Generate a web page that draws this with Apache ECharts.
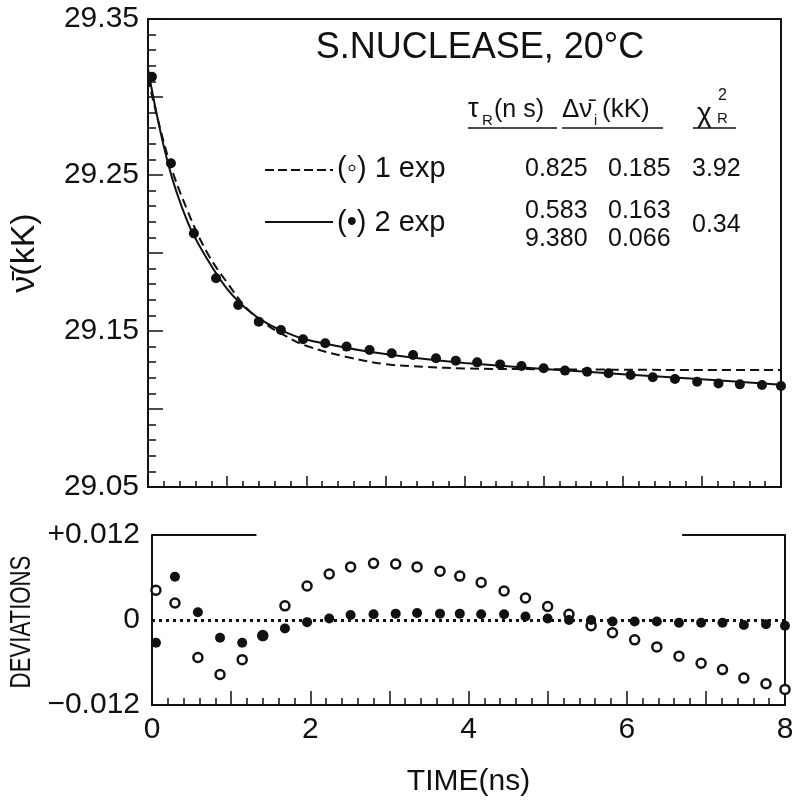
<!DOCTYPE html>
<html>
<head>
<meta charset="utf-8">
<script src="https://cdn.jsdelivr.net/npm/echarts@6/dist/echarts.min.js"></script>
<style>
html,body{margin:0;padding:0;background:#fff;}
#chart{width:800px;height:804px;}
</style>
</head>
<body>
<div id="chart"></div>
<script>
// ---- data ----
const timeNs = [0.05, 0.29, 0.58, 0.86, 1.14, 1.40, 1.68, 1.96, 2.24, 2.51, 2.80, 3.08, 3.35, 3.64, 3.89, 4.16, 4.45, 4.72, 5.00, 5.27, 5.55, 5.82, 6.10, 6.38, 6.66, 6.94, 7.21, 7.48, 7.76, 8.00];
const nuData = [29.313, 29.2575, 29.2126, 29.1838, 29.1667, 29.156, 29.1506, 29.1447, 29.1421, 29.140, 29.1378, 29.1357, 29.1346, 29.1325, 29.131, 29.1299, 29.1286, 29.1276, 29.1261, 29.1246, 29.1239, 29.1229, 29.1218, 29.1203, 29.1192, 29.1175, 29.1164, 29.1158, 29.1154, 29.1147];
const fitTime = [0, 0.25, 0.5, 0.75, 1.0, 1.25, 1.5, 1.75, 2.0, 2.5, 3.0, 3.5, 4.0, 5.0, 6.0, 7.0, 8.0];
const fit1exp = [29.312, 29.262, 29.227, 29.200, 29.181, 29.1645, 29.154, 29.1465, 29.1405, 29.1335, 29.1288, 29.127, 29.126, 29.1255, 29.1252, 29.125, 29.125];
const fit2exp = [29.318, 29.258, 29.220, 29.196, 29.177, 29.164, 29.155, 29.149, 29.1445, 29.1393, 29.1352, 29.132, 29.1295, 29.1257, 29.1223, 29.119, 29.1155];
const dev1exp = [0.0042, 0.0024, -0.0053, -0.0077, -0.0056, -0.0022, 0.0020, 0.0048, 0.0065, 0.0075, 0.0080, 0.0079, 0.0075, 0.0069, 0.0062, 0.0053, 0.0041, 0.0031, 0.0019, 0.0008, -0.0008, -0.0018, -0.0028, -0.0038, -0.0051, -0.0061, -0.0070, -0.0082, -0.0090, -0.0098];
const dev2exp = [-0.0032, 0.0061, 0.0011, -0.0025, -0.0032, -0.0023, -0.0012, -0.0003, 0.0002, 0.0007, 0.0008, 0.0009, 0.0010, 0.0009, 0.0009, 0.0008, 0.0008, 0.0005, 0.0002, 0.0000, 0.0000, -0.0002, -0.0002, -0.0002, -0.0004, -0.0004, -0.0004, -0.0007, -0.0006, -0.0008];
const topTickLabels = ['29.05', '29.15', '29.25', '29.35'];
const xTickLabels = ['0', '2', '4', '6', '8'];
const devTickLabels = {neg: '\u22120.012', zero: '0', pos: '+0.012'};

// ---- build ----
const ink = '#111';
const FONT = 'Liberation Sans';
const zip = (a, b) => a.map((v, i) => [v, b[i]]);

const chart = echarts.init(document.getElementById('chart'), null, {renderer: 'canvas'});

function txt(text, x, y, size, align, extra) {
  return Object.assign({
    type: 'text', z: 100,
    style: {text: text, x: x, y: y, fill: ink, font: size + 'px "' + FONT + '", "DejaVu Sans"',
      textAlign: align || 'left', textVerticalAlign: 'middle'}
  }, extra || {});
}
function hline(x1, x2, y, w, dash) {
  return {type: 'line', z: 100, shape: {x1: x1, y1: y, x2: x2, y2: y},
    style: {stroke: ink, lineWidth: w || 1.5, lineDash: dash || null}};
}

const option = {
  backgroundColor: '#fff',
  animation: false,
  grid: [
    {left: 147, top: 19, width: 634, height: 468, show: true, borderColor: ink, borderWidth: 2, backgroundColor: 'transparent'},
    {left: 152, top: 535, width: 633, height: 170, show: false}
  ],
  xAxis: [
    {gridIndex: 0, type: 'value', min: 0, max: 8, interval: 1,
      axisLine: {show: true, onZero: false, lineStyle: {color: ink, width: 2}},
      axisTick: {show: true, inside: true, length: 11, lineStyle: {color: ink, width: 1.5}},
      minorTick: {show: true, splitNumber: 5, length: 6, lineStyle: {color: ink, width: 1.5}},
      axisLabel: {show: false}, splitLine: {show: false}},
    {gridIndex: 1, type: 'value', min: 0, max: 8, interval: 1,
      axisLine: {show: true, onZero: false, lineStyle: {color: ink, width: 2}},
      axisTick: {show: true, inside: true, length: 14, lineStyle: {color: ink, width: 1.5}},
      minorTick: {show: true, splitNumber: 5, length: 7, lineStyle: {color: ink, width: 1.5}},
      axisLabel: {show: true, margin: 10, color: ink, fontFamily: FONT, fontSize: 30,
        formatter: function (v) { const s = String(Math.round(v)); return xTickLabels.indexOf(s) >= 0 ? s : ''; }},
      splitLine: {show: false},
      name: 'TIME(ns)', nameLocation: 'middle', nameGap: 62,
      nameTextStyle: {color: ink, fontFamily: FONT, fontSize: 30}}
  ],
  yAxis: [
    {gridIndex: 0, type: 'value', min: 29.05, max: 29.35, interval: 0.05,
      axisLine: {show: true, onZero: false, lineStyle: {color: ink, width: 2}},
      axisTick: {show: true, inside: true, length: 15, lineStyle: {color: ink, width: 1.5}},
      minorTick: {show: true, splitNumber: 5, length: 8, lineStyle: {color: ink, width: 1.5}},
      axisLabel: {show: true, margin: 9, color: ink, fontFamily: FONT, fontSize: 30,
        formatter: function (v) { const s = v.toFixed(2); return topTickLabels.indexOf(s) >= 0 ? s : ''; }},
      splitLine: {show: false},
      name: 'ν\u0304(kK)', nameLocation: 'middle', nameGap: 106,
      nameTextStyle: {color: ink, fontFamily: FONT, fontSize: 34}},
    {gridIndex: 1, type: 'value', min: -0.012, max: 0.012, interval: 0.012,
      axisLine: {show: true, onZero: false, lineStyle: {color: ink, width: 2}},
      axisTick: {show: false},
      axisLabel: {show: true, margin: 12, color: ink, fontFamily: FONT, fontSize: 30,
        formatter: function (v) { return v > 0.001 ? devTickLabels.pos : (v < -0.001 ? devTickLabels.neg : devTickLabels.zero); }},
      splitLine: {show: false}},
    {gridIndex: 1, type: 'value', min: -0.012, max: 0.012, interval: 0.012, position: 'right',
      axisLine: {show: true, onZero: false, lineStyle: {color: ink, width: 2}},
      axisTick: {show: false}, axisLabel: {show: false}, splitLine: {show: false}}
  ],
  series: [
    {name: '1 exp', type: 'line', xAxisIndex: 0, yAxisIndex: 0, data: zip(fitTime, fit1exp),
      smooth: 0.4, showSymbol: false, lineStyle: {color: ink, width: 2, type: [9, 5]}, z: 3},
    {name: '2 exp', type: 'line', xAxisIndex: 0, yAxisIndex: 0, data: zip(fitTime, fit2exp),
      smooth: 0.4, showSymbol: false, lineStyle: {color: ink, width: 2}, z: 3},
    {name: 'data', type: 'scatter', xAxisIndex: 0, yAxisIndex: 0, data: zip(timeNs, nuData),
      symbol: 'circle', symbolSize: 10, itemStyle: {color: ink, opacity: 1}, z: 4},
    {name: 'dev 1 exp', type: 'scatter', xAxisIndex: 1, yAxisIndex: 1, data: zip(timeNs, dev1exp),
      symbol: 'circle', symbolSize: 9, itemStyle: {color: '#fff', borderColor: ink, borderWidth: 2.5, opacity: 1}, z: 4,
      markLine: {silent: true, symbol: 'none', label: {show: false}, animation: false,
        lineStyle: {color: ink, width: 3, type: [3, 4]},
        data: [[{coord: [0, 0]}, {coord: [8, 0]}]]}},
    {name: 'dev 2 exp', type: 'scatter', xAxisIndex: 1, yAxisIndex: 1, data: zip(timeNs, dev2exp),
      symbol: 'circle', symbolSize: 10, itemStyle: {color: ink, opacity: 1}, z: 5,
      markLine: {silent: true, symbol: 'none', label: {show: false}, animation: false,
        lineStyle: {color: ink, width: 2, type: 'solid'},
        data: [
          [{coord: [0, 0.012]}, {coord: [1.32, 0.012]}],
          [{coord: [6.7, 0.012]}, {coord: [8, 0.012]}]
        ]}}
  ],
  graphic: [
    txt('DEVIATIONS', 22, 622, 30, 'center', {rotation: Math.PI / 2, scaleX: 0.74, x: 0, y: 0, originX: 22, originY: 622}),
    txt('S.NUCLEASE, 20°C', 480, 48, 36, 'center'),
    // header
    txt('τ', 468, 110, 27, 'left'),
    txt('R', 482, 121, 15, 'left'),
    txt('(n s)', 494, 110, 25, 'left'),
    hline(468, 557, 128, 1.5),
    txt('Δν\u0304', 562, 110, 26, 'left'),
    txt('i', 594, 121, 14, 'left'),
    txt('(kK)', 602, 110, 26, 'left'),
    hline(562, 663, 128, 1.5),
    txt('χ', 697, 114, 28, 'left'),
    txt('2', 718, 96, 16, 'left'),
    txt('R', 717, 119, 15, 'left'),
    hline(693, 736, 128, 1.5),
    // row 1
    hline(265, 333, 170, 2, [9, 4]),
    txt('(\u25E6) 1 exp', 337, 169, 29, 'left'),
    txt('0.825', 525, 169, 25, 'left'),
    txt('0.185', 608, 169, 25, 'left'),
    txt('3.92', 692, 169, 25, 'left'),
    // row 2
    hline(265, 333, 222, 2),
    txt('(\u2022) 2 exp', 337, 223, 29, 'left'),
    txt('0.583', 525, 211, 25, 'left'),
    txt('9.380', 525, 239, 25, 'left'),
    txt('0.163', 608, 211, 25, 'left'),
    txt('0.066', 608, 239, 25, 'left'),
    txt('0.34', 692, 225, 25, 'left')
  ]
};
chart.setOption(option);
</script>
</body>
</html>
